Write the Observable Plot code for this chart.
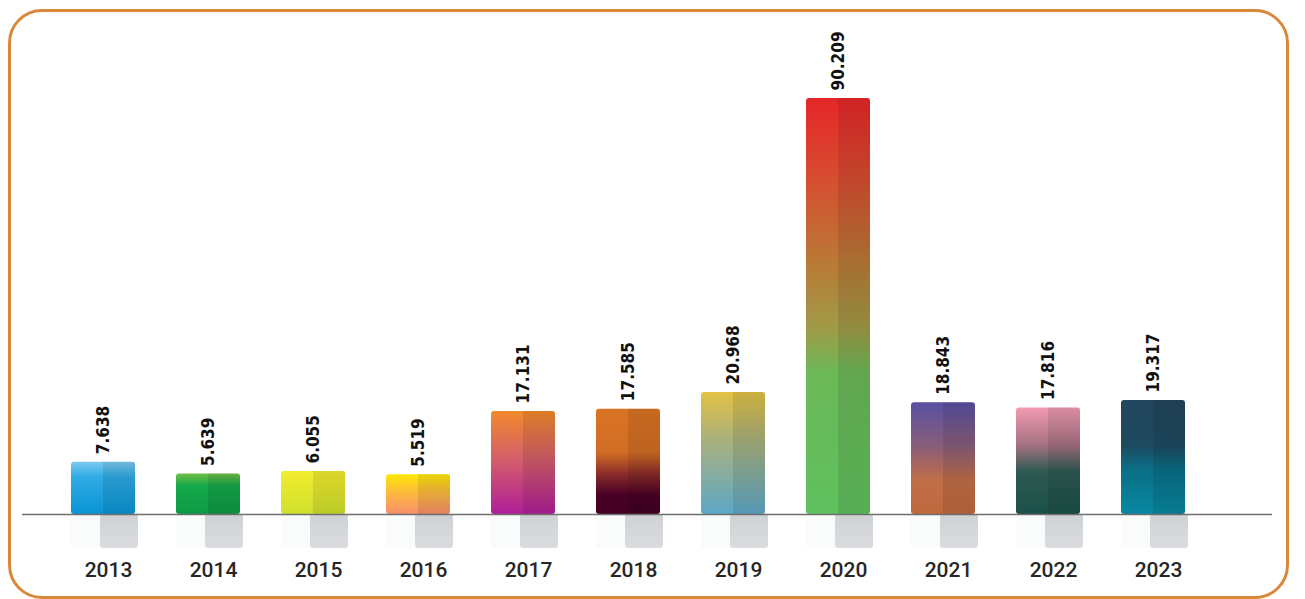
<!DOCTYPE html>
<html>
<head>
<meta charset="utf-8">
<script src="https://cdn.jsdelivr.net/npm/d3@7"></script>
<script src="https://cdn.jsdelivr.net/npm/@observablehq/plot@0.6"></script>
<style>
  html, body { margin: 0; padding: 0; background: #ffffff; }
  #wrap { position: relative; width: 1305px; height: 599px; overflow: hidden; background: #fff; }
  #frame { position: absolute; left: 8px; top: 9px; width: 1281px; height: 590px; box-sizing: border-box;
           border: 3px solid #d9883a; border-radius: 34px; pointer-events: none; }
  #chart svg { display: block; }
</style>
</head>
<body>
<div id="wrap">
  <div id="chart"></div>
  <div id="frame"></div>
</div>
<script>
// ---- data ----
const years  = ["2013","2014","2015","2016","2017","2018","2019","2020","2021","2022","2023"];
const values = [7.638, 5.639, 6.055, 5.519, 17.131, 17.585, 20.968, 90.209, 18.843, 17.816, 19.317];
const valueLabels = ["7.638","5.639","6.055","5.519","17.131","17.585","20.968","90.209","18.843","17.816","19.317"];

// ---- styles (gradient stops per bar, top -> bottom) ----
const barColors = [
  [[0,"#7ccaf0"],[0.3,"#2eaae4"],[1,"#0a94d4"]],
  [[0,"#72c046"],[0.3,"#16a84a"],[1,"#0d9a46"]],
  [[0,"#f2ec2e"],[1,"#cfe02e"]],
  [[0,"#ffe800"],[0.4,"#fdc038"],[1,"#f78e6c"]],
  [[0,"#f28a2c"],[0.45,"#d46068"],[1,"#b01e98"]],
  [[0,"#da7424"],[0.42,"#d06c24"],[0.62,"#8a2c2a"],[0.82,"#4a0026"],[1,"#420022"]],
  [[0,"#e2c244"],[0.4,"#a8b07c"],[1,"#5ea8c8"]],
  [[0,"#e52628"],[0.18,"#d84a30"],[0.38,"#bc7636"],[0.55,"#a09a46"],[0.66,"#6cb858"],[1,"#5fc05e"]],
  [[0,"#5a50a2"],[0.4,"#8a5e78"],[0.7,"#c06e48"],[1,"#c0683e"]],
  [[0,"#f29ab2"],[0.35,"#a67282"],[0.6,"#2e5a52"],[1,"#1a5048"]],
  [[0,"#22465e"],[0.4,"#1e4a60"],[0.6,"#0a6e86"],[1,"#0888a2"]]
];

const data = years.map((y, i) => ({year: y, value: values[i], label: valueLabels[i]}));

const chart = Plot.plot({
  width: 1305,
  height: 599,
  marginLeft: 28,
  marginRight: 77,
  marginTop: 98,
  marginBottom: 85,
  style: {background: "transparent", overflow: "visible"},
  x: {domain: years, padding: 0.39, axis: null},
  y: {type: "pow", exponent: 0.84, domain: [0, 90.209], axis: null},
  color: {type: "identity"},
  marks: [
    // faint reflection under each bar
    Plot.barY(data, {x: "year", y1: 0, y2: 0, insetBottom: -34, fill: "#fafbfb"}),
    // gray shadow block (right half, below baseline)
    Plot.barY(data, {x: "year", y1: 0, y2: 0, insetBottom: -34, insetLeft: 29, insetRight: -3,
                     fill: "url(#shadowGrad)", rx: 3}),
    // main gradient bars
    Plot.barY(data, {x: "year", y: "value", fill: d => `url(#g${d.year})`, rx: 3}),
    // darker right half
    Plot.barY(data, {x: "year", y: "value", insetLeft: 32, fill: "#000", fillOpacity: 0.09}),
    // baseline
    Plot.ruleY([0], {stroke: "#6e6e6e", strokeWidth: 1.5, insetLeft: -6, insetRight: -44}),
    // value labels (rotated)
    Plot.text(data, {x: "year", y: "value", text: "label", rotate: -90, textAnchor: "start",
                     lineAnchor: "middle", dy: -8, fontFamily: "'DejaVu Sans Condensed', 'DejaVu Sans', sans-serif",
                     fontWeight: "bold", fontSize: 17, fill: "#111"}),
    // year labels
    Plot.text(data, {x: "year", y: 0, text: "year", dy: 56, dx: 5, fontFamily: "Roboto, sans-serif",
                     fontWeight: 500, fontSize: 21, fill: "#262626"})
  ]
});

// gradient definitions
const svg = d3.select(chart);
const defs = svg.insert("defs", ":first-child");
years.forEach((y, i) => {
  const g = defs.append("linearGradient").attr("id", `g${y}`)
    .attr("x1", 0).attr("y1", 0).attr("x2", 0).attr("y2", 1);
  barColors[i].forEach(([o, c]) => g.append("stop").attr("offset", o).attr("stop-color", c));
});
const sg = defs.append("linearGradient").attr("id", "shadowGrad")
  .attr("x1", 0).attr("y1", 0).attr("x2", 0).attr("y2", 1);
sg.append("stop").attr("offset", 0).attr("stop-color", "#cfd2d5");
sg.append("stop").attr("offset", 1).attr("stop-color", "#dadcdf");

document.getElementById("chart").appendChild(chart);
</script>
</body>
</html>
